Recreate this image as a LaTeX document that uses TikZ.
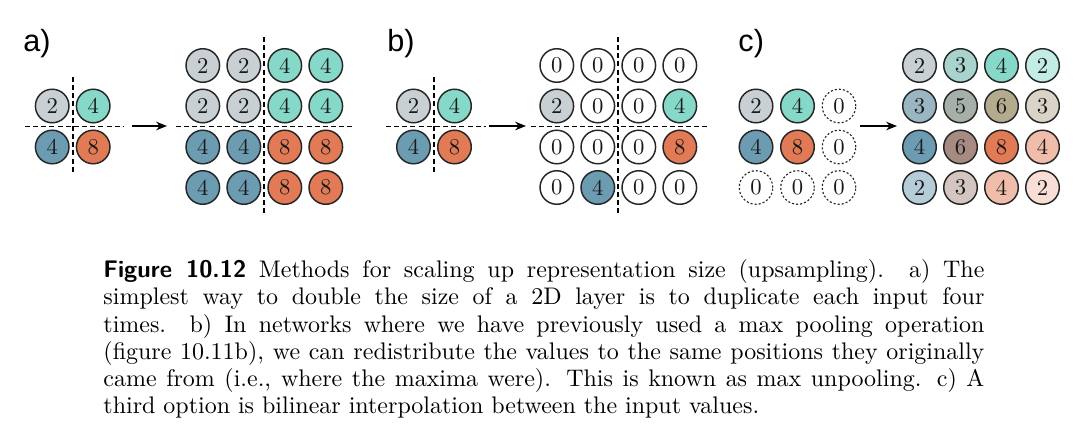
\documentclass[tikz,border=0pt]{standalone}
\usepackage{fontspec}
\newfontfamily\labfont{Liberation Sans}
\usetikzlibrary{arrows.meta}
\definecolor{cg}{HTML}{C9D0D3}
\definecolor{ct}{HTML}{86D9C8}
\definecolor{cb}{HTML}{6B9CB2}
\definecolor{co}{HTML}{E27B55}
\colorlet{cgt}{cg!50!ct}
\colorlet{cgb}{cg!50!cb}
\colorlet{cto}{ct!50!co}
\colorlet{cbo}{cb!50!co}
\colorlet{cmid}{cgt!50!cbo}
\colorlet{ctw}{ct!50!white}
\colorlet{ctow}{cto!50!white}
\colorlet{cow}{co!50!white}
\colorlet{cbw}{cb!50!white}
\colorlet{cbow}{cbo!50!white}
\colorlet{coww}{co!25!white}
\tikzset{
  cell/.style={circle, draw=black!85, line width=0.65pt, minimum size=14.8pt, inner sep=0pt,
    font=\fontsize{10}{10}\selectfont, text=black!90},
  zcell/.style={cell, fill=white},
  dcell/.style={cell, fill=white, dash pattern=on 0.9pt off 0.9pt, line width=0.5pt},
  divline/.style={line width=0.8pt, dash pattern=on 2.2pt off 1.4pt},
  arr/.style={-{Stealth[length=4.8pt,width=3.8pt]}, line width=0.6pt},
  panel/.style={font=\labfont\fontsize{13.5}{13.5}\selectfont, anchor=base west, inner sep=0pt},
}
\begin{document}
\begin{tikzpicture}[x=0.441pt,y=-0.441pt]
\useasboundingbox (0,0) rectangle (1086,444);

% panel labels
\node[panel] (la) at (23,52) {a)};
\node[panel] (lb) at (387,52) {b)};
\node[panel] (lc) at (738,52) {c)};

% ---------- panel a ----------
\node[cell, fill=cg] (ia11) at (52.2,106) {2};
\node[cell, fill=ct] (ia12) at (93.2,106) {4};
\node[cell, fill=cb] (ia21) at (52.2,147) {4};
\node[cell, fill=co] (ia22) at (93.2,147) {8};
\coordinate (iavt) at (72.7,77);
\coordinate (iavb) at (72.7,174);
\coordinate (iahl) at (25,126.5);
\coordinate (iahr) at (124,126.5);
\draw[divline] (iavt) -- (iavb);
\draw[divline] (iahl) -- (iahr);

\coordinate (aas) at (131.7,126);
\coordinate (aae) at (167,126);
\draw[arr] (aas) -- (aae);

\node[cell, fill=cg] (ga11) at (202.8,65.5) {2};
\node[cell, fill=cg] (ga12) at (243.8,65.5) {2};
\node[cell, fill=ct] (ga13) at (284.8,65.5) {4};
\node[cell, fill=ct] (ga14) at (325.8,65.5) {4};
\node[cell, fill=cg] (ga21) at (202.8,106) {2};
\node[cell, fill=cg] (ga22) at (243.8,106) {2};
\node[cell, fill=ct] (ga23) at (284.8,106) {4};
\node[cell, fill=ct] (ga24) at (325.8,106) {4};
\node[cell, fill=cb] (ga31) at (202.8,147) {4};
\node[cell, fill=cb] (ga32) at (243.8,147) {4};
\node[cell, fill=co] (ga33) at (284.8,147) {8};
\node[cell, fill=co] (ga34) at (325.8,147) {8};
\node[cell, fill=cb] (ga41) at (202.8,187.5) {4};
\node[cell, fill=cb] (ga42) at (243.8,187.5) {4};
\node[cell, fill=co] (ga43) at (284.8,187.5) {8};
\node[cell, fill=co] (ga44) at (325.8,187.5) {8};
\coordinate (gavt) at (264.3,37);
\coordinate (gavb) at (264.3,215);
\coordinate (gahl) at (176,126.5);
\coordinate (gahr) at (354,126.5);
\draw[divline] (gavt) -- (gavb);
\draw[divline] (gahl) -- (gahr);

% ---------- panel b ----------
\node[cell, fill=cg] (ib11) at (413.5,106) {2};
\node[cell, fill=ct] (ib12) at (454.5,106) {4};
\node[cell, fill=cb] (ib21) at (413.5,147) {4};
\node[cell, fill=co] (ib22) at (454.5,147) {8};
\coordinate (ibvt) at (434,77);
\coordinate (ibvb) at (434,174);
\coordinate (ibhl) at (386,126.5);
\coordinate (ibhr) at (486,126.5);
\draw[divline] (ibvt) -- (ibvb);
\draw[divline] (ibhl) -- (ibhr);

\coordinate (abs) at (489.3,126);
\coordinate (abe) at (526,126);
\draw[arr] (abs) -- (abe);

\node[zcell] (gb11) at (556.8,65.5) {0};
\node[zcell] (gb12) at (597.8,65.5) {0};
\node[zcell] (gb13) at (638.8,65.5) {0};
\node[zcell] (gb14) at (679.8,65.5) {0};
\node[cell, fill=cg] (gb21) at (556.8,106) {2};
\node[zcell] (gb22) at (597.8,106) {0};
\node[zcell] (gb23) at (638.8,106) {0};
\node[cell, fill=ct] (gb24) at (679.8,106) {4};
\node[zcell] (gb31) at (556.8,147) {0};
\node[zcell] (gb32) at (597.8,147) {0};
\node[zcell] (gb33) at (638.8,147) {0};
\node[cell, fill=co] (gb34) at (679.8,147) {8};
\node[zcell] (gb41) at (556.8,187.5) {0};
\node[cell, fill=cb] (gb42) at (597.8,187.5) {4};
\node[zcell] (gb43) at (638.8,187.5) {0};
\node[zcell] (gb44) at (679.8,187.5) {0};
\coordinate (gbvt) at (618.3,37);
\coordinate (gbvb) at (618.3,214);
\coordinate (gbhl) at (531,126.5);
\coordinate (gbhr) at (708,126.5);
\draw[divline] (gbvt) -- (gbvb);
\draw[divline] (gbhl) -- (gbhr);

% ---------- panel c ----------
\node[cell, fill=cg] (ic11) at (756,106) {2};
\node[cell, fill=ct] (ic12) at (797.5,106) {4};
\node[dcell] (ic13) at (839,106) {0};
\node[cell, fill=cb] (ic21) at (756,147) {4};
\node[cell, fill=co] (ic22) at (797.5,147) {8};
\node[dcell] (ic23) at (839,147) {0};
\node[dcell] (ic31) at (756,187.5) {0};
\node[dcell] (ic32) at (797.5,187.5) {0};
\node[dcell] (ic33) at (839,187.5) {0};

\coordinate (acs) at (860,126);
\coordinate (ace) at (897,126);
\draw[arr] (acs) -- (ace);

\node[cell, fill=cg]   (gc11) at (919.5,65.5) {2};
\node[cell, fill=cgt]  (gc12) at (960.5,65.5) {3};
\node[cell, fill=ct]   (gc13) at (1001.5,65.5) {4};
\node[cell, fill=ctw]  (gc14) at (1042.5,65.5) {2};
\node[cell, fill=cgb]  (gc21) at (919.5,106) {3};
\node[cell, fill=cmid] (gc22) at (960.5,106) {5};
\node[cell, fill=cto]  (gc23) at (1001.5,106) {6};
\node[cell, fill=ctow] (gc24) at (1042.5,106) {3};
\node[cell, fill=cb]   (gc31) at (919.5,147) {4};
\node[cell, fill=cbo]  (gc32) at (960.5,147) {6};
\node[cell, fill=co]   (gc33) at (1001.5,147) {8};
\node[cell, fill=cow]  (gc34) at (1042.5,147) {4};
\node[cell, fill=cbw]  (gc41) at (919.5,187.5) {2};
\node[cell, fill=cbow] (gc42) at (960.5,187.5) {3};
\node[cell, fill=cow]  (gc43) at (1001.5,187.5) {4};
\node[cell, fill=coww] (gc44) at (1042.5,187.5) {2};

% ---------- caption ----------
\node[anchor=north west, inner sep=0pt, text width=388.5pt, align=justify,
  font=\fontsize{10.57}{12}\selectfont] (cap) at (103,259.3)
{\noindent\hyphenpenalty=10000 \textsf{\textbf{Figure 10.12}} Methods for scaling up representation size (upsampling). a)~The\linebreak
simplest way to double the size of a 2D layer is to duplicate each input four\linebreak
times. b) In networks where we have previously used a max pooling operation\linebreak
(figure 10.11b), we can redistribute the values to the same positions they originally\linebreak
came from (i.e., where the maxima were). This is known as max unpooling. c)~A\linebreak
third option is bilinear interpolation between the input values.};
\end{tikzpicture}
\end{document}
